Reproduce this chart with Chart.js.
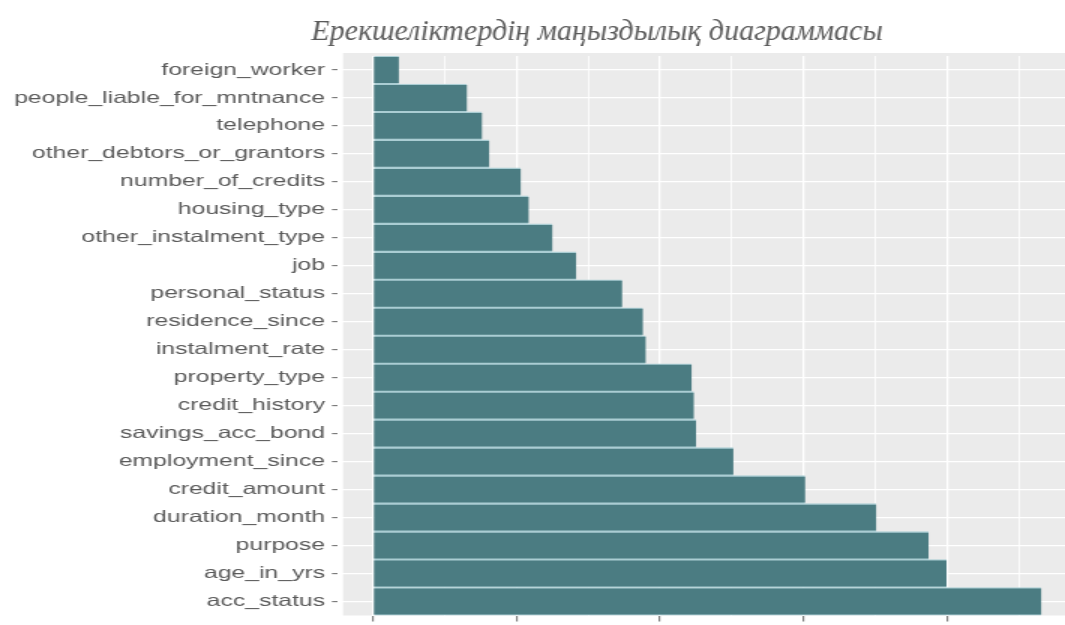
<!DOCTYPE html>
<html>
<head>
<meta charset="utf-8">
<script src="https://cdn.jsdelivr.net/npm/chart.js@4"></script>
<style>
  html, body { margin: 0; padding: 0; background: #ffffff; overflow: hidden; width: 1065px; height: 625px; }
</style>
</head>
<body>
<canvas id="chart" width="710" height="630" style="width:1065px;height:630px;display:block"></canvas>
<script>
// Feature names, top to bottom
const features = [
  'foreign_worker',
  'people_liable_for_mntnance',
  'telephone',
  'other_debtors_or_grantors',
  'number_of_credits',
  'housing_type',
  'other_instalment_type',
  'job',
  'personal_status',
  'residence_since',
  'instalment_rate',
  'property_type',
  'credit_history',
  'savings_acc_bond',
  'employment_since',
  'credit_amount',
  'duration_month',
  'purpose',
  'age_in_yrs',
  'acc_status'
];

// Importance score of each feature
const importance = [
  1.8, 6.55, 7.6, 8.1, 10.3, 10.85, 12.5, 14.15, 17.35, 18.8,
  19.0, 22.2, 22.35, 22.5, 25.1, 30.1, 35.05, 38.7, 39.95, 46.55
];

const chartTitle = 'Ерекшеліктердің маңыздылық диаграммасы';

// The drawing is rendered on a narrower canvas and widened by CSS
const SX = 1065 / 710;

const panelBackground = {
  id: 'panelBackground',
  beforeDraw(chart) {
    const { ctx, chartArea } = chart;
    ctx.save();
    ctx.fillStyle = '#ebebeb';
    const left = chartArea.left + 3.4;
    ctx.fillRect(left, chartArea.top - 3, chartArea.right - left, chartArea.bottom - chartArea.top + 3);
    ctx.restore();
  }
};

const titleText = {
  id: 'titleText',
  afterDraw(chart) {
    const ctx = chart.ctx;
    ctx.save();
    ctx.scale(1 / SX, 1);
    ctx.font = 'italic 30px "Liberation Serif"';
    ctx.fillStyle = '#5a5a5a';
    ctx.textAlign = 'center';
    ctx.textBaseline = 'alphabetic';
    ctx.fillText(chartTitle, 597, 40);
    ctx.restore();
  }
};

new Chart(document.getElementById('chart'), {
  type: 'bar',
  data: {
    labels: features,
    datasets: [{
      data: importance,
      backgroundColor: '#4b7c82',
      borderColor: '#aacdd3',
      borderWidth: { top: 1.4, bottom: 1.4, left: 0, right: 0 },
      borderSkipped: false,
      barPercentage: 1,
      categoryPercentage: 1
    }]
  },
  options: {
    indexAxis: 'y',
    responsive: false,
    animation: false,
    devicePixelRatio: 1,
    layout: { padding: { top: 56, left: 0, right: 0, bottom: 0 } },
    plugins: {
      legend: { display: false },
      tooltip: { enabled: false },
      title: { display: false }
    },
    scales: {
      x: {
        type: 'linear',
        position: 'bottom',
        min: -2.44,
        max: 48.2,
        border: { display: false },
        ticks: { stepSize: 5, includeBounds: false, display: false },
        grid: {
          color: '#ffffff',
          lineWidth: (c) => (c.tick && c.tick.value % 10 === 0 ? 1.3 : 0.8),
          drawTicks: true,
          tickLength: 6,
          tickWidth: 0.8,
          tickColor: (c) => (c.tick && c.tick.value % 10 === 0 ? '#444444' : 'rgba(0,0,0,0)')
        },
        afterFit(scale) { scale.height = 8; }
      },
      y: {
        type: 'category',
        position: 'left',
        border: { display: false },
        ticks: {
          color: '#5a5a5a',
          font: { family: '"Liberation Sans", Arial, sans-serif', size: 16.5 },
          padding: 4.6,
          autoSkip: false
        },
        grid: {
          offset: false,
          color: '#ffffff',
          lineWidth: 1.3,
          drawTicks: true,
          tickLength: 4,
          tickWidth: 1,
          tickColor: '#666666'
        },
        afterFit(scale) { scale.width = 225.3; }
      }
    }
  },
  plugins: [panelBackground, titleText]
});
</script>
</body>
</html>
